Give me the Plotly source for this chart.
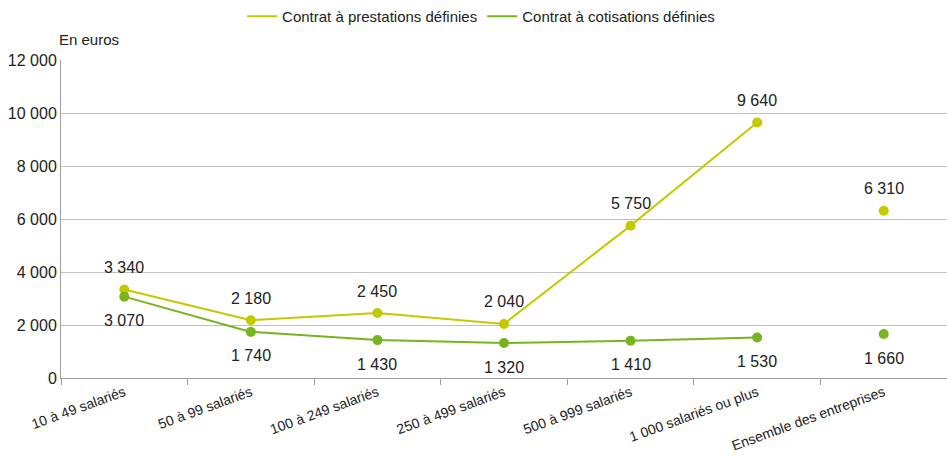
import plotly.graph_objects as go

categories = ["10 à 49 salariés", "50 à 99 salariés", "100 à 249 salariés",
              "250 à 499 salariés", "500 à 999 salariés",
              "1 000 salariés ou plus", "Ensemble des entreprises"]
prestations = [3340, 2180, 2450, 2040, 5750, 9640, 6310]
cotisations = [3070, 1740, 1430, 1320, 1410, 1530, 1660]
y_ticks = [0, 2000, 4000, 6000, 8000, 10000, 12000]

col_prest = "#c5c900"
col_cotis = "#78b41e"
font_fam = "Liberation Sans Narrow, Liberation Sans, Arial"
txt_col = "#222222"

fig = go.Figure()

series = [("Contrat à prestations définies", prestations, col_prest, 22),
          ("Contrat à cotisations définies", cotisations, col_cotis, -24)]

for name, vals, col, shift in series:
    # ligne reliant les tranches de taille (l'ensemble reste isolé)
    fig.add_trace(go.Scatter(x=categories[:6], y=vals[:6], mode="lines",
                             name=name, line=dict(color=col, width=2)))
    # points
    fig.add_trace(go.Scatter(x=categories, y=vals, mode="markers",
                             showlegend=False, marker=dict(color=col, size=10)))
    for c, v in zip(categories, vals):
        fig.add_annotation(x=c, y=v, text=f"{v:,}".replace(",", " "),
                           showarrow=False, yshift=shift,
                           font=dict(family=font_fam, size=16, color=txt_col))

fig.add_annotation(xref="paper", yref="paper", x=-0.005, y=1.03,
                   xanchor="left", yanchor="bottom", text="En euros",
                   showarrow=False, font=dict(family=font_fam, size=15, color=txt_col))

fig.update_layout(width=947, height=460,
                  margin=dict(l=61, r=0, t=60, b=82),
                  plot_bgcolor="white", paper_bgcolor="white",
                  separators=", ",
                  font=dict(family=font_fam, size=15, color=txt_col),
                  legend=dict(orientation="h", xref="container", yref="container",
                              x=0.508, xanchor="center", y=1.0, yanchor="top",
                              font=dict(size=15)))

fig.update_xaxes(type="category", categoryorder="array", categoryarray=categories,
                 range=[-0.5, 6.5], tickson="boundaries", ticks="outside",
                 ticklen=6, tickcolor="#a0a0a0", showline=True, linecolor="#a0a0a0",
                 linewidth=1, showgrid=False, tickangle=-20, automargin=False,
                 tickfont=dict(size=14, color=txt_col))

fig.update_yaxes(range=[0, 12000], tickvals=y_ticks, tickformat=",d",
                 showline=True, linecolor="#a0a0a0", linewidth=1, automargin=False,
                 showgrid=True, gridcolor="#c0c0c0", gridwidth=1, zeroline=False,
                 ticks="", tickfont=dict(size=16, color=txt_col))

# pas de marge de page autour du graphique, pas de barre d'outils
fig.write_html("out.html", config={"displayModeBar": False},
               post_script="document.body.style.margin = '0';")
